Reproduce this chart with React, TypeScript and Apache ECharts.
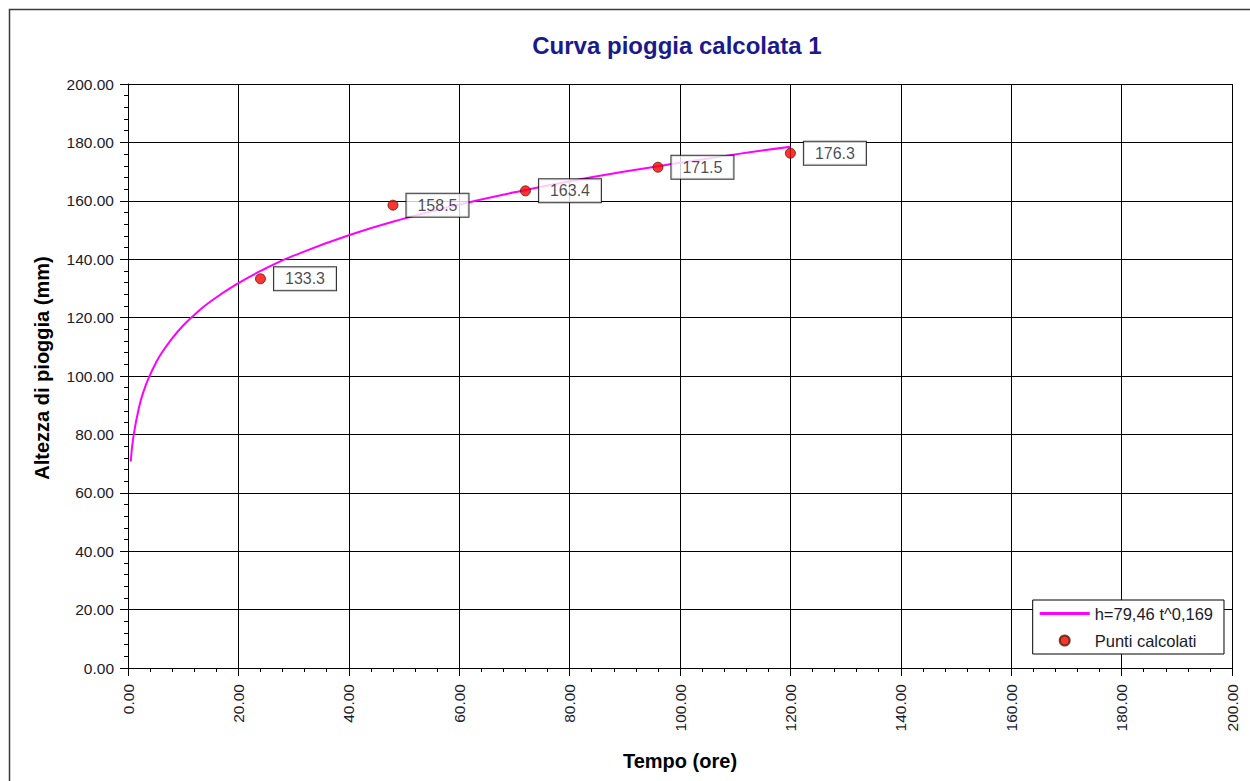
import React, { useEffect, useRef } from "react";
import * as echarts from "echarts";

// Curve h = 79,46 t^0,169
const curveT = [0.5, 1, 2, 3, 4, 5, 6, 8, 10, 12, 15, 20, 25, 30, 40, 50, 60, 70, 80, 90, 100, 110, 120];
const curveH = [70.7, 79.5, 89.3, 95.7, 100.4, 104.3, 107.6, 112.9, 117.3, 120.9, 125.6, 131.8, 136.9, 141.2, 148.2, 153.9, 158.7, 162.9, 166.7, 170.0, 173.0, 175.9, 178.5];

// Computed points
const pointT = [24, 48, 72, 96, 120];
const pointH = [133.3, 158.5, 163.4, 171.5, 176.3];

const curveName = "h=79,46 t^0,169";
const pointsName = "Punti calcolati";
const chartTitle = "Curva pioggia calcolata 1";
const xName = "Tempo (ore)";
const yName = "Altezza di pioggia (mm)";

const FONT = "'Liberation Sans', Arial, sans-serif";
const TXT = "#1a1a2a";

export default function App() {
  const ref = useRef<HTMLDivElement>(null);
  useEffect(() => {
    if (!ref.current) return;
    const chart = echarts.init(ref.current, undefined, { renderer: "svg" });
    const axisCommon = {
      min: 0,
      max: 200,
      interval: 20,
      axisLine: { show: true, lineStyle: { color: "#000", width: 1 } },
      axisTick: { show: true, length: 8, lineStyle: { color: "#000", width: 1 } },
      minorTick: { show: true, splitNumber: 5, length: 4, lineStyle: { color: "#000", width: 1 } },
      splitLine: { show: true, lineStyle: { color: "#000", width: 1 } },
    };
    chart.setOption({
      animation: false,
      backgroundColor: "#fff",
      textStyle: { fontFamily: FONT },
      title: {
        text: chartTitle,
        left: 672,
        top: 28,
        textAlign: "center",
        textStyle: { fontFamily: FONT, fontWeight: "bold", fontSize: 24, color: "#1a1a8c" },
      },
      graphic: [
        {
          type: "rect",
          shape: { x: 9.5, y: 9.5, width: 1260, height: 800 },
          style: { fill: "none", stroke: "#3a3a3a", lineWidth: 1.5 },
          silent: true,
          z: -1,
        },
      ],
      grid: { left: 128, right: 18, top: 84, bottom: 113, containLabel: false },
      xAxis: {
        type: "value",
        ...axisCommon,
        name: xName,
        nameLocation: "middle",
        nameGap: 83,
        nameTextStyle: { fontFamily: FONT, fontWeight: "bold", fontSize: 20, color: "#000" },
        axisLabel: {
          rotate: 90,
          margin: 16,
          fontFamily: FONT,
          fontSize: 15.5,
          color: TXT,
          formatter: (v: number) => v.toFixed(2),
        },
      },
      yAxis: {
        type: "value",
        ...axisCommon,
        name: yName,
        nameLocation: "middle",
        nameGap: 76,
        nameTextStyle: {
          fontFamily: FONT,
          fontWeight: "bold",
          fontSize: 20,
          color: "#000",
          padding: [0, 0, 0, 16],
        },
        axisLabel: {
          margin: 14,
          fontFamily: FONT,
          fontSize: 15.5,
          color: TXT,
          formatter: (v: number) => v.toFixed(2),
        },
      },
      legend: {
        right: 26,
        top: 600,
        orient: "vertical",
        backgroundColor: "#fff",
        borderColor: "#000",
        borderWidth: 1,
        borderRadius: 0,
        padding: [5, 11, 5, 7],
        itemWidth: 50,
        itemHeight: 10,
        itemGap: 10,
        textStyle: { fontFamily: FONT, fontSize: 16.5, color: TXT },
        data: [
          { name: curveName, icon: "path://M0 0H100V6H0Z" },
          { name: pointsName, icon: "circle" },
        ],
      },
      series: [
        {
          name: curveName,
          type: "line",
          smooth: true,
          symbol: "none",
          lineStyle: { color: "#ff00ff", width: 2 },
          itemStyle: { color: "#ff00ff" },
          data: curveT.map((t, i) => [t, curveH[i]]),
          z: 3,
        },
        {
          name: pointsName,
          type: "scatter",
          symbol: "circle",
          symbolSize: 10,
          itemStyle: { color: "#ff0000", borderColor: "#4a2000", borderWidth: 1 },
          data: pointT.map((t, i) => [t, pointH[i]]),
          label: {
            show: true,
            position: "right",
            distance: 8,
            formatter: (p: any) => p.value[1].toFixed(1),
            fontFamily: FONT,
            fontSize: 16,
            color: TXT,
            backgroundColor: "#fff",
            borderColor: "#000",
            borderWidth: 1,
            padding: [4, 11, 3, 11],
          },
          z: 4,
        },
      ],
    });
    return () => chart.dispose();
  }, []);
  return (
    <div
      ref={ref}
      style={{ position: "absolute", left: 0, top: 0, width: 1250, height: 781 }}
    />
  );
}
